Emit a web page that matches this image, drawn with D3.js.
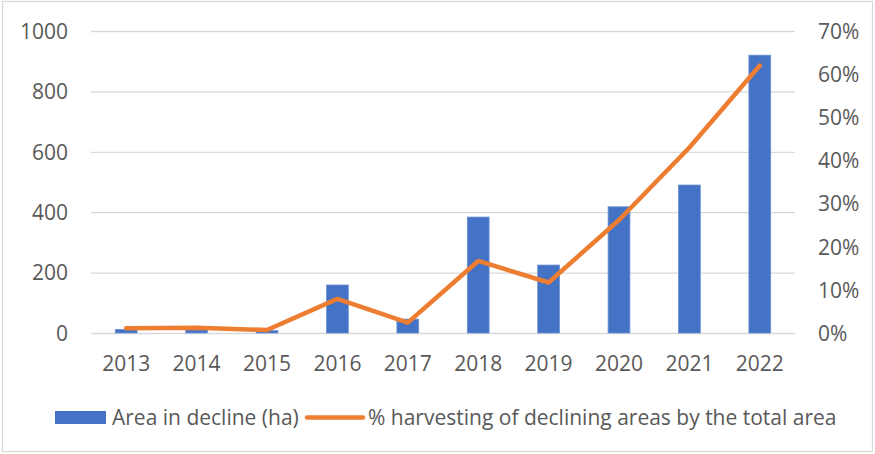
<!DOCTYPE html>
<html>
<head>
<meta charset="utf-8">
<script src="https://cdn.jsdelivr.net/npm/d3@7/dist/d3.min.js"></script>
<style>
  html, body { margin: 0; padding: 0; background: #fff; }
  svg { display: block; }
  text { font-family: "Open Sans", Lato, sans-serif; fill: #595959; }
</style>
</head>
<body>
<svg id="chart" width="875" height="454"></svg>
<script>
// Yearly data
const years = ["2013", "2014", "2015", "2016", "2017", "2018", "2019", "2020", "2021", "2022"];
const areaInDecline = [12, 11, 8, 159, 46, 384, 225, 418, 490, 920];
const harvestShare = [0.011, 0.012, 0.007, 0.079, 0.024, 0.167, 0.117, 0.262, 0.43, 0.62];
const leftTicks = [0, 200, 400, 600, 800, 1000];
const rightTicks = [0, 0.1, 0.2, 0.3, 0.4, 0.5, 0.6, 0.7];
const legendLabels = ["Area in decline (ha)", "% harvesting of declining areas by the total area"];

const W = 875, H = 454;
const plot = { left: 91, right: 795, top: 31, bottom: 333 };
const blue = "#4472C4", orange = "#ED7D31", grid = "#d9d9d9";
const fs = 21;

const svg = d3.select("#chart");

// outer frame
svg.append("rect")
  .attr("x", 2.5).attr("y", 1.5).attr("width", W - 5).attr("height", H - 4)
  .attr("fill", "none").attr("stroke", grid).attr("stroke-width", 1.3);

const x = d3.scaleBand().domain(years).range([plot.left, plot.right]).paddingInner(0.69).paddingOuter(0.345);
const yL = d3.scaleLinear().domain([0, 1000]).range([plot.bottom, plot.top]);
const yR = d3.scaleLinear().domain([0, 0.7]).range([plot.bottom, plot.top]);

// gridlines + left axis labels
const leftAxis = d3.axisLeft(yL).tickValues(leftTicks).tickFormat(d3.format("d"))
  .tickSize(-(plot.right - plot.left)).tickPadding(23);
const gL = svg.append("g").attr("transform", `translate(${plot.left},0)`).call(leftAxis);
gL.select(".domain").remove();
gL.selectAll(".tick line").attr("stroke", grid).attr("stroke-width", 1.3);
gL.selectAll(".tick text").attr("font-size", fs).attr("dy", "0.35em").style("fill", "#595959");

// right axis labels
const rightAxis = d3.axisRight(yR).tickValues(rightTicks).tickSize(0).tickPadding(23).tickFormat(d3.format(".0%"));
const gR = svg.append("g").attr("transform", `translate(${plot.right},0)`).call(rightAxis);
gR.select(".domain").remove();
gR.selectAll(".tick text").attr("font-size", fs).attr("dy", "0.35em").style("fill", "#595959");

// bottom axis labels
const bottomAxis = d3.axisBottom(x).tickSize(0).tickPadding(23);
const gB = svg.append("g").attr("transform", `translate(0,${plot.bottom})`).call(bottomAxis);
gB.select(".domain").remove();
gB.selectAll(".tick text").attr("font-size", fs).style("fill", "#595959");

// bars
svg.append("g").selectAll("rect").data(years).join("rect")
  .attr("x", d => x(d))
  .attr("width", x.bandwidth())
  .attr("y", (d, i) => yL(areaInDecline[i]))
  .attr("height", (d, i) => yL(0) - yL(areaInDecline[i]))
  .attr("fill", blue)
  .attr("stroke", "#6f93d6").attr("stroke-width", 0.8);

// line
const line = d3.line()
  .x((d, i) => x(years[i]) + x.bandwidth() / 2)
  .y(d => yR(d));
svg.append("path").datum(harvestShare)
  .attr("d", line)
  .attr("fill", "none").attr("stroke", orange).attr("stroke-width", 4.5)
  .attr("stroke-linejoin", "round").attr("stroke-linecap", "round");

// legend
const lg = svg.append("g");
lg.append("rect").attr("x", 55).attr("y", 411).attr("width", 51).attr("height", 13).attr("fill", blue);
lg.append("text").attr("x", 112).attr("y", 424.5).attr("font-size", fs).text(legendLabels[0]);
lg.append("line").attr("x1", 307).attr("x2", 363).attr("y1", 417.5).attr("y2", 417.5)
  .attr("stroke", orange).attr("stroke-width", 4.5).attr("stroke-linecap", "round");
lg.append("text").attr("x", 368).attr("y", 424.5).attr("font-size", fs).text(legendLabels[1]);
</script>
</body>
</html>
